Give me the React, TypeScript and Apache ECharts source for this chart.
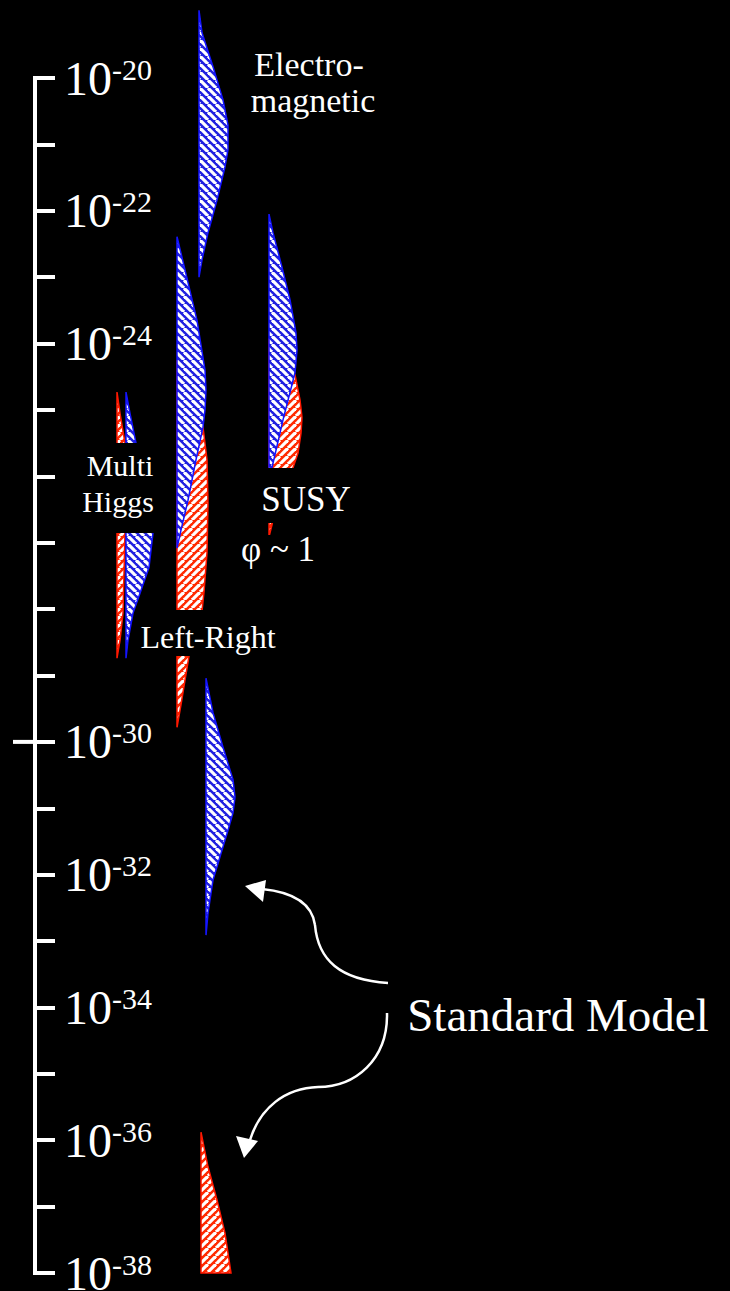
import React, { useEffect, useRef } from "react";
import * as echarts from "echarts";

// vertical scale: log10 of the quantity (exponent of ten)
const decadeMin = -38;
const decadeMax = -20;
const decadeStep = 1;
const labeledDecades = [-20, -22, -24, -30, -32, -34, -36, -38];

// column positions of each model on the hidden horizontal scale
const colMultiHiggsRed = 82;
const colMultiHiggsBlue = 91;
const colLeftRight = 142;
const colStdModelRed = 166;
const colElectromagnetic = 164;
const colStdModelBlue = 171;
const colSusy = 234;

// profiles: [exponent, width]
const emBlue: [number, number][] = [
  [-18.98, 0], [-19.32, 3], [-19.83, 14], [-20.33, 24], [-20.71, 29], [-21.08, 29],
  [-21.34, 26], [-21.84, 18], [-22.33, 9], [-22.74, 3], [-23.0, 0],
];
const lrBlue: [number, number][] = [
  [-22.39, 0], [-22.89, 8], [-23.65, 20], [-24.4, 28], [-24.7, 29], [-25.0, 28],
  [-25.26, 26], [-25.75, 19], [-26.36, 11], [-26.81, 4], [-27.08, 0],
];
const lrRed: [number, number][] = [
  [-24.25, 0], [-24.85, 16], [-25.26, 26], [-25.75, 30], [-26.4, 31], [-27.15, 30],
  [-27.74, 27], [-28.03, 25], [-28.71, 12], [-29.07, 8], [-29.44, 4], [-29.78, 0],
];
const mhRed: [number, number][] = [
  [-24.73, 0], [-25.05, 3], [-25.5, 8], [-26.21, 8], [-26.85, 8], [-28.06, 6],
  [-28.47, 3], [-28.74, 0],
];
const mhBlue: [number, number][] = [
  [-24.73, 0], [-25.05, 4], [-25.5, 10], [-26.21, 20], [-26.85, 27], [-27.37, 23],
  [-27.76, 14], [-28.06, 7], [-28.47, 2], [-28.74, 0],
];
const susyBlue: [number, number][] = [
  [-22.05, 0], [-22.33, 4], [-22.85, 13], [-23.34, 21], [-23.84, 27], [-24.1, 28],
  [-24.44, 26], [-25.15, 14], [-25.87, 3], [-25.93, 0],
];
const susyRed: [number, number][] = [
  [-23.95, 0], [-24.47, 26], [-24.85, 31], [-25.11, 33], [-25.35, 32], [-25.65, 29],
  [-25.87, 24], [-26.36, 8], [-26.73, 3], [-26.91, 0],
];
const smBlue: [number, number][] = [
  [-29.04, 0], [-29.56, 7], [-30.08, 17], [-30.57, 27], [-30.83, 29], [-31.07, 27],
  [-31.33, 22], [-31.58, 17], [-32.08, 7], [-32.58, 2], [-32.91, 0],
];
const smRed: [number, number][] = [
  [-35.88, 0], [-36.4, 7], [-36.9, 16], [-37.4, 24], [-38.0, 30],
];

const longTickAt = [-30];

const SERIF = "Liberation Serif";
const BLUE = "#2020e0";
const BLUE_EDGE = "#1414ff";
const RED = "#ff2a00";
const RED_EDGE = "#ff1800";

function makePattern(base: string, dir: number) {
  const size = 8;
  const c = document.createElement("canvas");
  c.width = size;
  c.height = size;
  const ctx = c.getContext("2d")!;
  ctx.fillStyle = base;
  ctx.fillRect(0, 0, size, size);
  ctx.strokeStyle = "#ffffff";
  ctx.lineWidth = 3.2;
  for (const k of [-size, 0, size]) {
    ctx.beginPath();
    if (dir > 0) {
      ctx.moveTo(k, 0);
      ctx.lineTo(k + size, size);
    } else {
      ctx.moveTo(k + size, 0);
      ctx.lineTo(k, size);
    }
    ctx.stroke();
  }
  return { image: c, repeat: "repeat", imageWidth: size, imageHeight: size } as any;
}

type Shape = { column: number; profile: [number, number][] };

export default function App() {
  const ref = useRef<HTMLDivElement>(null);
  useEffect(() => {
    document.body.style.margin = "0";
    document.body.style.background = "#000";
    const chart = echarts.init(ref.current!, null, { renderer: "svg" });
    const bluePat = makePattern(BLUE, 1);
    const redPat = makePattern(RED, -1);

    const redShapes: Shape[] = [
      { column: colLeftRight, profile: lrRed },
      { column: colMultiHiggsRed, profile: mhRed },
      { column: colSusy, profile: susyRed },
      { column: colStdModelRed, profile: smRed },
    ];
    const blueShapes: Shape[] = [
      { column: colElectromagnetic, profile: emBlue },
      { column: colLeftRight, profile: lrBlue },
      { column: colMultiHiggsBlue, profile: mhBlue },
      { column: colSusy, profile: susyBlue },
      { column: colStdModelBlue, profile: smBlue },
    ];

    const shapeSeries = (shapes: Shape[], fill: any, stroke: string) => ({
      type: "custom",
      coordinateSystem: "cartesian2d",
      clip: false,
      z: 2,
      data: shapes.map((s) => [s.column, s.profile[0][0]]),
      renderItem: (params: any, api: any) => {
        const s = shapes[params.dataIndex];
        const pts: number[][] = [api.coord([s.column, s.profile[0][0]])];
        for (const [e, w] of s.profile) pts.push(api.coord([s.column + w, e]));
        pts.push(api.coord([s.column, s.profile[s.profile.length - 1][0]]));
        return {
          type: "polygon",
          shape: { points: pts },
          style: { fill, stroke, lineWidth: 1.5 },
        };
      },
    });

    const txt = (text: string, x: number, y: number, size: number) => ({
      type: "text",
      z: 20,
      x,
      y,
      style: {
        text,
        fill: "#fff",
        fontFamily: SERIF,
        fontSize: size,
        align: "center",
        verticalAlign: "middle",
      },
    });
    const box = (x: number, y: number, w: number, h: number) => ({
      type: "rect",
      z: 15,
      shape: { x, y, width: w, height: h },
      style: { fill: "#000" },
    });
    const arrowStyle = { stroke: "#fff", lineWidth: 2.5, fill: "none" };

    chart.setOption({
      animation: false,
      backgroundColor: "#000",
      grid: { left: 35, right: 0, top: 78, bottom: 18, outerBoundsMode: "none" } as any,
      xAxis: { type: "value", min: 0, max: 695, show: false },
      yAxis: {
        type: "value",
        min: decadeMin,
        max: decadeMax,
        interval: decadeStep,
        position: "left",
        splitLine: { show: false },
        axisLine: { show: true, lineStyle: { color: "#fff", width: 4, cap: "square" } },
        axisTick: { show: true, inside: true, length: 20, lineStyle: { color: "#fff", width: 4 } },
        axisLabel: {
          inside: true,
          margin: 29,
          showMinLabel: true,
          showMaxLabel: true,
          formatter: (v: number) => {
            const r = Math.round(v);
            return labeledDecades.includes(r) ? `{b|10}{s|${r}}` : "";
          },
          rich: {
            b: { fontFamily: SERIF, fontSize: 48, lineHeight: 48, color: "#fff", verticalAlign: "bottom" },
            s: { fontFamily: SERIF, fontSize: 30, lineHeight: 30, color: "#fff", verticalAlign: "top" },
          },
        },
      },
      series: [
        shapeSeries(redShapes, redPat, RED_EDGE),
        shapeSeries(blueShapes, bluePat, BLUE_EDGE),
        {
          type: "custom",
          coordinateSystem: "cartesian2d",
          clip: false,
          z: 3,
          data: longTickAt.map((v) => [0, v]),
          renderItem: (params: any, api: any) => {
            const p = api.coord([0, longTickAt[params.dataIndex]]);
            return {
              type: "line",
              shape: { x1: p[0] - 22, y1: p[1], x2: p[0], y2: p[1] },
              style: { stroke: "#fff", lineWidth: 4 },
            };
          },
        },
      ],
      graphic: [
        box(78, 443, 84, 90),
        box(255, 468, 105, 55),
        box(236, 535, 84, 38),
        box(135, 610, 145, 46),
        txt("Electro-", 309, 64, 34),
        txt("magnetic", 313, 100, 34),
        txt("Multi", 120, 465, 30),
        txt("Higgs", 118, 501, 30),
        txt("SUSY", 306, 499, 35),
        txt("φ ~ 1", 278, 549, 35),
        txt("Left-Right", 208, 637, 32),
        txt("Standard Model", 558, 1015, 47),
        {
          type: "bezierCurve",
          z: 20,
          shape: { x1: 388, y1: 983, cpx1: 340, cpy1: 980, cpx2: 318, cpy2: 960, x2: 315, y2: 925 },
          style: arrowStyle,
        },
        {
          type: "bezierCurve",
          z: 20,
          shape: { x1: 315, y1: 925, cpx1: 312, cpy1: 903, cpx2: 292, cpy2: 892, x2: 262, y2: 889 },
          style: arrowStyle,
        },
        {
          type: "polygon",
          z: 20,
          shape: { points: [[245, 886], [266, 880], [263, 902]] },
          style: { fill: "#fff" },
        },
        {
          type: "bezierCurve",
          z: 20,
          shape: { x1: 387, y1: 1013, cpx1: 388, cpy1: 1060, cpx2: 355, cpy2: 1087, x2: 318, y2: 1087 },
          style: arrowStyle,
        },
        {
          type: "bezierCurve",
          z: 20,
          shape: { x1: 318, y1: 1087, cpx1: 285, cpy1: 1088, cpx2: 260, cpy2: 1108, x2: 250, y2: 1140 },
          style: arrowStyle,
        },
        {
          type: "polygon",
          z: 20,
          shape: { points: [[244, 1158], [236, 1136], [258, 1141]] },
          style: { fill: "#fff" },
        },
      ],
    } as any);
    return () => chart.dispose();
  }, []);
  return (
    <div
      ref={ref}
      style={{ position: "absolute", left: 0, top: 0, width: 730, height: 1291, background: "#000" }}
    />
  );
}
